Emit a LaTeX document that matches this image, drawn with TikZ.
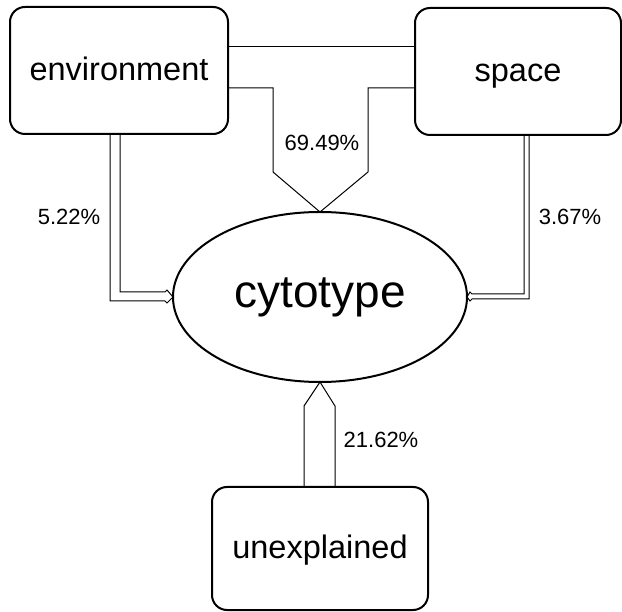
\documentclass[tikz,border=0pt]{standalone}
\usepackage{fontspec}
\setmainfont{Liberation Sans}
\usetikzlibrary{shapes.geometric}

\tikzset{every picture/.style={line width=1pt}}
\tikzset{rbox/.style={draw, rectangle, rounded corners=15pt, line width=2pt, outer sep=0pt, inner sep=0pt, text height=24pt, text depth=4pt, font=\fontsize{32.5}{39}\selectfont}}
\tikzset{oval/.style={draw, ellipse, line width=2pt, outer sep=0pt, inner sep=0pt, font=\fontsize{46}{55}\selectfont}}
\tikzset{pct/.style={inner sep=0.75pt, font=\fontsize{22}{26}\selectfont}}
\tikzset{thinline/.style={line width=1pt, line join=miter}}

\begin{document}
\begin{tikzpicture}[x=1pt,y=1pt,yscale=-1,xscale=1]
\useasboundingbox (0,0) rectangle (622,612); %set diagram to 622 x 612

%Rounded Rect
\draw (119,70.5) node [rbox, minimum width=218, minimum height=127] (env) {environment};
%Rounded Rect
\draw (518,71.5) node [rbox, minimum width=206, minimum height=127] (space) {space};
%Rounded Rect
\draw (320,548.5) node [rbox, minimum width=216, minimum height=123] (unexp) {unexplained};
%Shape: Ellipse
\draw (320,297) node [oval, minimum width=294, minimum height=170] (cyto) {cytotype};

%Straight Lines 
\draw [thinline] (env.east |- 0,47) -- (space.west |- 0,47) ;
%Shape: Polygon 
\draw [thinline] (env.east |- 0,88) -- (273,88) -- (273,172) -- (cyto.north) -- (368,172) -- (368,88) -- (space.west |- 0,88) ;
%Shape: Polygon 
\draw [thinline] (env.south -| 110,0) -- (110,301) -- (165,301) -- (167,303) -- (cyto.west) -- (167,290) -- (165,292) -- (120,292) -- (env.south -| 120,0) ;
%Shape: Polygon 
\draw [thinline] (space.south -| 524,0) -- (524,294) -- (472,294) -- (470,292) -- (cyto.east) -- (470,301) -- (472,299) -- (529,299) -- (space.south -| 529,0) ;
%Shape: Polygon 
\draw [thinline] (unexp.north -| 304,0) -- (304,406) -- (cyto.south) -- (335,406) -- (unexp.north -| 335,0) ;

% Text Node
\draw (322,143) node [pct] (ptop) {69.49\%};
% Text Node
\draw (69,217) node [pct] (pleft) {5.22\%};
% Text Node
\draw (570,217) node [pct] (pright) {3.67\%};
% Text Node
\draw (381,440) node [pct] (pbottom) {21.62\%};
\end{tikzpicture}
\end{document}
